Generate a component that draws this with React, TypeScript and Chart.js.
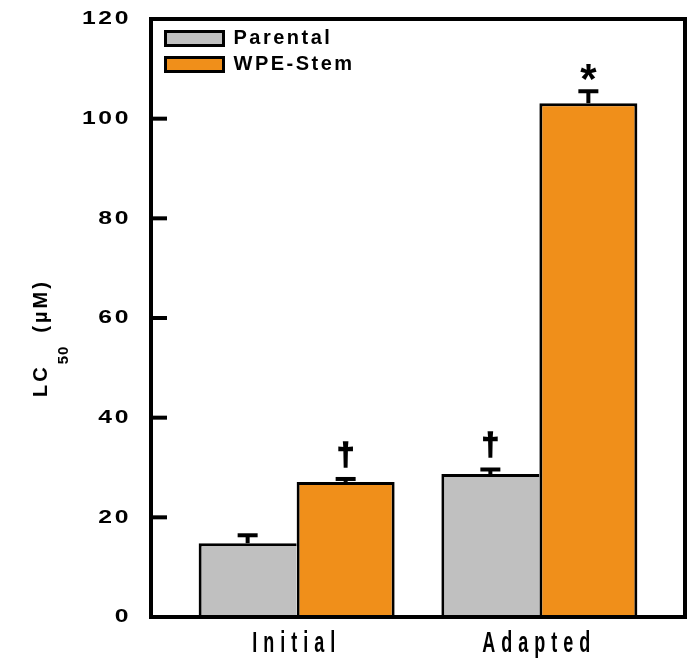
import React, { useEffect, useRef } from 'react';
import { Chart, registerables } from 'chart.js';
Chart.register(...registerables);

const categories = ['Initial', 'Adapted'];
const seriesNames = ['Parental', 'WPE-Stem'];
const parentalValues = [14.8, 28.7];
const parentalErrors = [1.6, 0.9];
const stemValues = [27.1, 103.1];
const stemErrors = [0.6, 2.4];
const parentalMarks = ['', '†'];
const stemMarks = ['†', '*'];
const yTicks = [0, 20, 40, 60, 80, 100, 120];
const yTitleMain = 'LC';
const yTitleSub = '50';
const yTitleUnit = '(µM)';

const FONT = "'Liberation Sans', Arial, sans-serif";
const GRAY = '#C0C0C0';
const ORANGE = '#F08F1A';

const valueSets = [parentalValues, stemValues];
const errorSets = [parentalErrors, stemErrors];
const markSets = [parentalMarks, stemMarks];

// Draw a scale's tick labels with extra letter spacing and a stretch about an anchor point.
function patchLabels(
  scale: any,
  spacing: string,
  sx: number,
  sy: number,
  ox: (s: any) => number,
  oy: (s: any) => number,
  dx: number,
  dy: number
) {
  if (scale.__patched) return;
  scale.__patched = true;
  const orig = scale.drawLabels;
  scale.drawLabels = function (area: any) {
    const ctx = this.ctx as CanvasRenderingContext2D;
    ctx.save();
    (ctx as any).letterSpacing = spacing;
    const x0 = ox(this);
    const y0 = oy(this);
    ctx.translate(x0 + dx, y0 + dy);
    ctx.scale(sx, sy);
    ctx.translate(-x0, -y0);
    orig.call(this, area);
    ctx.restore();
  };
}

const figPlugin = {
  id: 'figPlugin',
  beforeUpdate(chart: any) {
    chart.ctx.letterSpacing = '2.5px';
  },
  afterLayout(chart: any) {
    const lg = chart.legend;
    const a = chart.chartArea;
    if (lg && a) {
      const w = lg.right - lg.left;
      const h = lg.bottom - lg.top;
      lg.left = a.left + 8.5;
      lg.top = a.top + 3.5;
      lg.right = lg.left + w;
      lg.bottom = lg.top + h;
    }
  },
  beforeDraw(chart: any) {
    chart.ctx.letterSpacing = '2.5px';
    patchLabels(chart.scales.x, '6px', 1, 1.65, () => 0, (s: any) => s.top + s.options.ticks.padding, 0, 0);
    patchLabels(chart.scales.y, '2px', 1.3, 1, (s: any) => s.right, () => 0, -20, 0);
  },
  afterDatasetsDraw(chart: any) {
    const ctx = chart.ctx as CanvasRenderingContext2D;
    const ys = chart.scales.y;
    chart.data.datasets.forEach((_ds: any, di: number) => {
      const meta = chart.getDatasetMeta(di);
      meta.data.forEach((bar: any, i: number) => {
        const v = valueSets[di][i];
        const e = errorSets[di][i];
        const yBar = ys.getPixelForValue(v);
        const yTop = ys.getPixelForValue(v + e);
        ctx.save();
        ctx.strokeStyle = '#000';
        ctx.lineWidth = 4;
        ctx.lineCap = 'butt';
        ctx.beginPath();
        ctx.moveTo(bar.x, yBar);
        ctx.lineTo(bar.x, yTop);
        ctx.stroke();
        ctx.beginPath();
        ctx.moveTo(bar.x - 10, yTop);
        ctx.lineTo(bar.x + 10, yTop);
        ctx.stroke();
        const m = markSets[di][i];
        if (m) {
          (ctx as any).letterSpacing = '0px';
          ctx.font = m === '*' ? `bold 42px ${FONT}` : `bold 31px ${FONT}`;
          ctx.fillStyle = '#000';
          ctx.textAlign = 'center';
          ctx.textBaseline = 'alphabetic';
          const mt = ctx.measureText(m);
          const ty = yTop - 2 - 9 - mt.actualBoundingBoxDescent;
          ctx.fillText(m, bar.x, ty);
          if (m !== '*') {
            ctx.lineWidth = 1.6;
            ctx.lineJoin = 'miter';
            ctx.strokeText(m, bar.x, ty);
          }
        }
        ctx.restore();
      });
    });
  },
  afterDraw(chart: any) {
    const ctx = chart.ctx as CanvasRenderingContext2D;
    const a = chart.chartArea;
    const ys = chart.scales.y;
    ctx.save();
    ctx.strokeStyle = '#000';
    ctx.lineWidth = 4;
    ctx.strokeRect(a.left, a.top, a.right - a.left, a.bottom - a.top);
    ys.ticks.forEach((t: any) => {
      const py = ys.getPixelForValue(t.value);
      ctx.beginPath();
      ctx.moveTo(a.left, py);
      ctx.lineTo(a.left + 16, py);
      ctx.stroke();
    });
    // y-axis title with subscript
    ctx.translate(47, 397);
    ctx.rotate(-Math.PI / 2);
    ctx.fillStyle = '#000';
    ctx.textAlign = 'left';
    ctx.textBaseline = 'alphabetic';
    (ctx as any).letterSpacing = '3px';
    ctx.font = `bold 20px ${FONT}`;
    ctx.fillText(yTitleMain, 0, 0);
    let w = ctx.measureText(yTitleMain).width;
    (ctx as any).letterSpacing = '1px';
    ctx.font = `bold 15px ${FONT}`;
    ctx.fillText(yTitleSub, w, 21);
    w += ctx.measureText(yTitleSub).width;
    (ctx as any).letterSpacing = '3px';
    ctx.font = `bold 20px ${FONT}`;
    ctx.fillText(yTitleUnit, w + 13, 0);
    ctx.restore();
  },
};

export default function App() {
  const ref = useRef<HTMLCanvasElement>(null);
  useEffect(() => {
    document.body.style.margin = '0';
    const canvas = ref.current!;
    Chart.defaults.color = '#000';
    Chart.defaults.font.family = FONT;
    const chart = new Chart(canvas, {
      type: 'bar',
      data: {
        datasets: [
          {
            label: seriesNames[0],
            data: categories.map((_, i) => ({ x: i, y: parentalValues[i] })),
            backgroundColor: GRAY,
            borderColor: '#000',
            borderWidth: { top: 3, left: 3, right: 0, bottom: 0 },
            borderSkipped: false,
            categoryPercentage: 0.8075,
            barPercentage: 1,
          },
          {
            label: seriesNames[1],
            data: categories.map((_, i) => ({ x: i, y: stemValues[i] })),
            backgroundColor: ORANGE,
            borderColor: '#000',
            borderWidth: { top: 3, left: 3, right: 3, bottom: 0 },
            borderSkipped: false,
            categoryPercentage: 0.8075,
            barPercentage: 1,
          },
        ] as any,
      },
      options: {
        responsive: false,
        animation: false,
        devicePixelRatio: 1,
        layout: { padding: { top: 19, right: 3, left: 0, bottom: 0 } },
        plugins: {
          tooltip: { enabled: false },
          legend: {
            position: 'chartArea' as any,
            align: 'start',
            labels: {
              boxWidth: 58,
              boxHeight: 14,
              padding: 6,
              color: '#000',
              font: { family: FONT, size: 20, weight: 'bold' },
              generateLabels: (c: any) =>
                (Chart.defaults.plugins.legend.labels as any).generateLabels(c).map((l: any) => ({ ...l, lineWidth: 3, strokeStyle: '#000' })),
            },
          },
        },
        scales: {
          x: {
            type: 'linear',
            offset: false,
            min: -0.6,
            max: 1.6,
            afterBuildTicks: (s: any) => {
              s.ticks = categories.map((_, i) => ({ value: i }));
            },
            afterFit: (s: any) => {
              s.height = 42;
            },
            grid: { display: false, drawTicks: false, offset: false },
            border: { display: false },
            ticks: {
              padding: 9,
              autoSkip: false,
              maxRotation: 0,
              color: '#000',
              font: { family: FONT, size: 18, weight: 'bold' },
              callback: (v: any) => categories[v] ?? '',
            },
          },
          y: {
            type: 'linear',
            min: 0,
            max: 120,
            afterBuildTicks: (s: any) => {
              s.ticks = yTicks.map((v) => ({ value: v }));
            },
            afterFit: (s: any) => {
              s.width = 151;
            },
            grid: { display: false, drawTicks: false },
            border: { display: false },
            ticks: {
              padding: 0,
              color: '#000',
              font: { family: FONT, size: 19, weight: 'bold' },
            },
          },
        },
      },
      plugins: [figPlugin as any],
    });
    return () => chart.destroy();
  }, []);
  return (
    <div style={{ width: 688, height: 659 }}>
      <canvas ref={ref} width={688} height={659} style={{ display: 'block' }} />
    </div>
  );
}
